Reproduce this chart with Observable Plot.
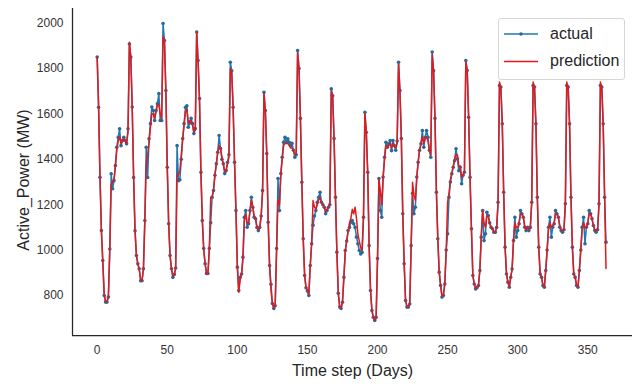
<!DOCTYPE html>
<html>
<head>
<meta charset="utf-8">
<script src="https://cdn.jsdelivr.net/npm/d3@7"></script>
<script src="https://cdn.jsdelivr.net/npm/@observablehq/plot@0.6"></script>
<style>
  body { margin: 0; background: #fff; font-family: "Liberation Sans", Arial, sans-serif; }
  #wrap { position: relative; width: 641px; height: 389px; overflow: hidden; }
  #legend { position: absolute; left: 498px; top: 18px; width: 127px; height: 62px;
            border: 1px solid #d6d6d6; border-radius: 3px; background: rgba(255,255,255,0.9);
            box-sizing: border-box; }
  #legend .lab { position: absolute; left: 51px; font-size: 16px; color: #262626; line-height: 20px; white-space: nowrap; }
</style>
</head>
<body>
<div id="wrap">
  <div id="chart"></div>
  <div id="legend">
    <svg width="127" height="62" style="position:absolute;left:0;top:0">
      <line x1="5" x2="39" y1="15" y2="15" stroke="#1f77b4" stroke-width="1.5"></line>
      <circle cx="22" cy="15" r="1.8" fill="#2a6a9b"></circle>
      <line x1="5" x2="39" y1="42.5" y2="42.5" stroke="#e31a1c" stroke-width="1.5"></line>
    </svg>
    <div class="lab" style="top:5px">actual</div>
    <div class="lab" style="top:32px">prediction</div>
  </div>
</div>
<script>
// Actual daily active power (MW), day 0..363
const actual = [
  // days 0-22
  1850,1629,1321,1086,954,800,771,771,793,1005,1336,1270,1306,1372,1453,1497,1534,1460,1483,1497,1483,1468,1534,
  // 23-46
  1908,1850,1630,1320,1085,976,940,918,865,865,918,1130,1453,1320,1490,1557,1630,1615,1571,1615,1645,1689,1571,1571,
  // 47-70
  1998,1923,1703,1365,1116,976,918,880,893,921,1460,1306,1310,1400,1491,1557,1629,1636,1541,1560,1580,1557,1513,1535,
  // 71-94
  1960,1835,1668,1343,1130,1007,940,897,897,1007,1120,1233,1262,1330,1380,1431,1505,1447,1400,1380,1337,1350,1387,1420,
  // 95-118
  1827,1790,1629,1387,1174,925,822,880,895,969,1145,1174,1101,1116,1174,1233,1189,1145,1138,1100,1086,1100,1150,1262,
  // 119-142
  1695,1615,1425,1123,932,850,765,743,755,1007,1315,1174,1337,1409,1475,1497,1475,1490,1475,1460,1470,1440,1409,1420,
  // 143-166
  1879,1800,1580,1299,1050,888,834,820,800,932,1028,1110,1150,1174,1211,1233,1255,1211,1200,1189,1160,1174,1189,1200,
  // 167-190
  1710,1680,1491,1233,991,810,749,743,770,880,998,1040,1086,1100,1123,1130,1116,1100,1057,1028,998,983,990,1145,
  // 191-214
  1607,1519,1343,1020,822,734,704,690,704,963,1315,1174,1145,1322,1409,1475,1453,1468,1483,1438,1483,1460,1440,1480,
  // 215-238
  1827,1703,1491,1160,940,778,749,749,763,1020,1250,1160,1189,1322,1387,1440,1468,1527,1453,1497,1527,1497,1440,1409,
  // 239-262
  1872,1790,1580,1255,1050,903,844,793,800,851,1000,1072,1233,1300,1336,1365,1394,1446,1402,1350,1365,1292,1330,1343,
  // 263-286
  1835,1791,1585,1321,1094,888,851,829,835,844,910,1057,1174,1042,1072,1167,1152,1120,1101,1094,1079,1079,1100,1211,
  // 287-310
  1725,1718,1556,1255,1013,895,859,837,880,917,1042,1145,1057,1086,1116,1174,1160,1145,1101,1086,1101,1086,1100,1211,
  // 311-334
  1725,1718,1556,1233,1013,895,880,844,837,910,1000,1101,1145,1057,1101,1116,1174,1160,1145,1101,1086,1079,1090,1204,
  // 335-358
  1725,1718,1556,1233,1013,895,880,844,837,910,1000,1101,1145,1028,1101,1116,1174,1160,1138,1108,1086,1079,1090,1204,
  // 359-363
  1725,1718,1556,1233,1035
];

// Model prediction (MW), day 0..363
const prediction = [
  1850,1640,1330,1090,950,810,775,772,795,1000,1290,1300,1310,1370,1440,1480,1500,1470,1480,1490,1480,1470,1520,
  1915,1850,1630,1325,1090,975,940,915,870,865,915,1130,1380,1420,1470,1540,1600,1600,1580,1610,1640,1640,1600,1580,
  1940,1920,1700,1370,1120,975,920,885,890,920,1330,1330,1350,1420,1490,1550,1610,1620,1560,1570,1570,1550,1520,1530,
  1960,1830,1660,1350,1135,1005,940,900,895,1000,1233,1233,1265,1330,1380,1430,1460,1450,1410,1380,1345,1350,1380,1410,
  1800,1780,1620,1390,1180,930,815,870,890,965,1130,1160,1120,1120,1170,1220,1190,1150,1140,1100,1090,1100,1150,1260,
  1690,1610,1420,1125,930,822,765,745,760,1000,1220,1200,1330,1400,1460,1470,1470,1470,1460,1450,1450,1440,1420,1430,
  1870,1800,1580,1300,1050,890,835,822,805,930,1030,1218,1190,1180,1200,1220,1230,1210,1200,1190,1170,1180,1190,1200,
  1700,1680,1490,1235,995,812,752,745,770,880,995,1040,1080,1120,1140,1180,1160,1189,1140,1070,1040,1010,1000,1150,
  1600,1520,1340,1025,825,735,705,690,700,960,1315,1262,1200,1320,1400,1460,1450,1460,1470,1450,1470,1460,1450,1470,
  1820,1700,1490,1165,945,780,752,750,765,1020,1299,1240,1220,1320,1390,1440,1470,1500,1470,1490,1500,1480,1440,1420,
  1860,1790,1580,1260,1055,905,845,797,802,855,1000,1211,1250,1310,1340,1370,1400,1420,1420,1370,1370,1320,1330,1345,
  1830,1790,1585,1320,1095,890,852,830,836,845,912,1060,1174,1120,1100,1150,1150,1120,1100,1095,1080,1080,1100,1210,
  1740,1715,1555,1255,1015,897,860,838,878,915,1040,1120,1100,1100,1120,1160,1160,1145,1110,1090,1100,1090,1100,1210,
  1740,1715,1555,1235,1015,897,880,846,838,910,1000,1095,1120,1100,1110,1120,1160,1160,1145,1110,1090,1085,1090,1200,
  1740,1715,1555,1235,1015,897,880,846,838,910,1000,1095,1120,1100,1100,1120,1160,1160,1140,1110,1090,1085,1090,1200,
  1740,1715,1550,1240,919
];

const xTicks = [0, 50, 100, 150, 200, 250, 300, 350];
const yTicks = [800, 1000, 1200, 1400, 1600, 1800, 2000];
const xTitle = "Time step (Days)";
const yTitle = "Active_Power (MW)";

const xDomain = [-17.6, 381.9];
const yDomain = [624, 2064];

const data = actual.map((v, i) => ({day: i, actual: v, prediction: prediction[i]}));

const ink = "#262626";
const chart = Plot.plot({
  width: 641,
  height: 389,
  marginLeft: 72,
  marginRight: 9,
  marginTop: 8,
  marginBottom: 54,
  x: {domain: xDomain},
  y: {domain: yDomain},
  style: {fontFamily: "'Liberation Sans', Arial, sans-serif", fontSize: "12px", color: ink, background: "#fff"},
  marks: [
    Plot.axisY({ticks: yTicks, tickFormat: d => String(d), tickSize: 0, tickPadding: 9, label: null, fontSize: 12, fill: "#333"}),
    Plot.axisX({ticks: xTicks, tickFormat: d => String(d), tickSize: 0, tickPadding: 10, label: null, fontSize: 12, fill: "#333"}),
    Plot.ruleX([xDomain[0]], {stroke: ink, strokeWidth: 1.25}),
    Plot.ruleY([yDomain[0]], {stroke: ink, strokeWidth: 1.25}),
    Plot.line(data, {x: "day", y: "actual", stroke: "#1f77b4", strokeWidth: 1.5}),
    Plot.dot(data, {x: "day", y: "actual", r: 1.8, fill: "#2a6a9b", stroke: "none"}),
    Plot.line(data, {x: "day", y: "prediction", stroke: "#e31a1c", strokeWidth: 1.5}),
    Plot.text([xTitle], {frameAnchor: "bottom", dy: 40, fontSize: 16, fill: ink}),
    Plot.text([yTitle], {frameAnchor: "left", textAnchor: "middle", dx: -49, dy: 8, rotate: -90, fontSize: 16, fill: ink})
  ]
});
document.getElementById("chart").appendChild(chart);
</script>
</body>
</html>
